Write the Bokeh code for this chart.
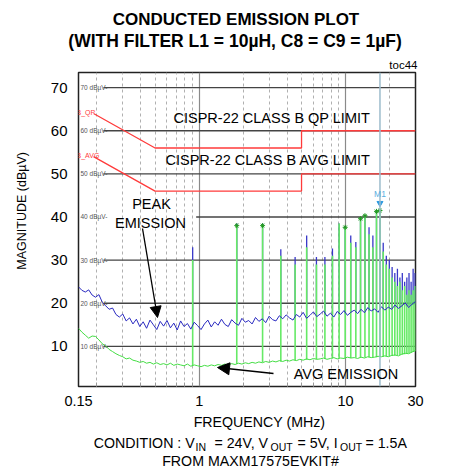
import numpy as np
from bokeh.plotting import figure
from bokeh.layouts import column, row
from bokeh.models import (FixedTicker, Label, Arrow, NormalHead, Range1d, Span,
                          CustomJSTickFormatter)
from bokeh.embed import file_html
from bokeh.resources import INLINE

FONT = "Liberation Sans"

# ---------------- data ----------------
x_ticks = [0.15, 1, 10, 30]
x_minor = [0.2, 0.3, 0.4, 0.5, 0.6, 0.7, 0.8, 0.9, 2, 3, 4, 5, 6, 7, 8, 9, 20]
y_ticks = [10, 20, 30, 40, 50, 60, 70]

peak_floor = [23.8, 23.0, 22.6, 23.1, 21.9, 21.4, 22.0, 20.2, 19.4, 18.6,
              18.9, 17.4, 16.8, 17.5, 15.9, 16.6, 15.2, 16.3, 14.6, 15.7,
              14.2, 16.1, 15.0, 13.9, 15.8, 14.7, 16.0, 14.3, 15.4, 13.8,
              15.9, 14.6, 15.3, 14.0, 15.6, 14.8, 13.9, 15.2, 16.1, 14.5,
              15.7, 14.9, 16.3, 15.1, 14.6, 16.2, 15.4, 14.9, 16.5, 15.6,
              16.0, 15.2, 16.7, 15.8, 16.4, 15.5, 17.0, 16.2, 15.9, 17.1,
              16.4, 17.3, 16.6, 16.1, 17.4, 16.8, 17.9, 16.5, 17.2, 18.0,
              16.9, 17.5, 18.2, 17.0, 17.7, 16.8, 18.1, 17.4, 18.3, 17.2,
              17.9, 18.4, 17.6, 18.6, 17.8, 19.0, 18.2, 18.7, 17.9, 19.2,
              18.4, 19.1, 18.6, 19.6, 18.8, 19.4, 20.1, 19.0, 19.8, 20.4]
avg_floor = [14.2, 13.3, 12.6, 11.9, 12.4, 12.3, 11.5, 10.6, 10.1, 9.3,
             8.8, 8.3, 7.9, 7.6, 7.1, 7.3, 6.8, 6.6, 6.3, 6.5,
             6.1, 6.3, 5.9, 6.2, 5.8, 6.0, 5.7, 6.1, 5.6, 5.9,
             5.7, 5.5, 5.9, 5.4, 5.7, 5.5, 5.3, 5.6, 5.4, 5.7,
             5.5, 5.8, 5.6, 5.9, 5.7, 6.0, 5.8, 6.1, 5.9, 6.2,
             6.0, 6.3, 6.1, 6.4, 6.2, 6.5, 6.3, 6.6, 6.4, 6.7,
             6.5, 6.8, 6.6, 6.9, 6.7, 7.0, 6.8, 7.1, 6.9, 7.2,
             7.0, 7.1, 7.3, 7.0, 7.2, 7.4, 7.1, 7.3, 7.2, 7.5,
             7.3, 7.4, 7.2, 7.5, 7.3, 7.6, 7.4, 7.5, 7.7, 7.6,
             7.8, 7.6, 7.9, 8.0, 7.8, 8.2, 8.4, 8.3, 8.7, 9.0]
sweep_mhz = np.geomspace(0.15, 30, len(peak_floor))

# switching harmonics (MHz) and their levels
harm_mhz = [0.903, 1.806, 2.71, 3.61, 4.52, 5.42, 6.32, 7.22, 8.13, 9.03,
            9.93, 10.84, 11.74, 12.64, 13.55, 14.45, 15.35, 16.25, 17.16, 18.06,
            18.96, 19.87, 20.77, 21.67, 22.58, 23.48, 24.38, 25.29, 26.19, 27.09,
            28.0, 28.9, 29.8]
harm_peak = [33, 38.5, 38.5, 32.5, 30.7, 35.7, 30.7, 30.7, 32.7, 38.5,
             37.8, 35.7, 34.2, 39.8, 40.5, 37.6, 35.7, 41.5, 41.7, 34,
             31, 30, 28.4, 27, 28, 26, 27, 25, 26, 27,
             25, 28, 27]
harm_avg = [30, 38, 38, 31, 29, 33, 29, 29, 31, 38.5,
            37.6, 34, 33, 39.6, 40.3, 36, 33, 41.3, 41.5, 32,
            29, 28, 26, 25, 24, 25, 23, 24, 22, 23,
            22, 23, 24]
harm_peak_base = [15.0, 15.8, 16.2, 16.6, 17.0, 17.1, 17.2, 17.3, 17.5, 17.6,
                  17.6, 17.8, 17.9, 18.0, 18.1, 18.2, 18.3, 18.4, 18.5, 18.6,
                  18.7, 18.8, 18.9, 19.0, 19.0, 19.1, 19.2, 19.3, 19.3, 19.4,
                  19.5, 19.6, 19.7]
harm_avg_base = [5.5, 5.9, 6.3, 6.5, 6.8, 6.9, 7.0, 7.1, 7.2, 7.3,
                 7.3, 7.3, 7.4, 7.4, 7.4, 7.5, 7.5, 7.5, 7.6, 7.6,
                 7.7, 7.8, 7.8, 7.9, 8.0, 8.0, 8.1, 8.2, 8.3, 8.4,
                 8.5, 8.7, 8.9]

# detector markers
mark_mhz = [1.806, 2.71, 9.93, 12.64, 13.55, 16.25, 17.16]
mark_level = [38, 38, 37.6, 39.6, 40.3, 41.3, 41.5]
m1_mhz = 17.16
m1_level = 43.2

# CISPR-22 class B limits
limit_mhz = [0.19, 0.5, 5.0, 5.0, 30]
qp_limit = [64, 56, 56, 60, 60]
avg_limit = [54, 46, 46, 50, 50]

# horizontal reference lines
grid_levels = [10, 20, 30, 40, 50, 60, 70]
grid_start = [0.222, 0.222, 0.222, 0.954, 0.222, 0.222, 0.222]
grid_end = [30, 30, 30, 30, 30, 30, 30]

# ---------------- layout geometry (page pixels) ----------------
XMIN, XMAX, YMIN, YMAX = 0.15, 30, 0.7, 73.5
FL, FR, FT, FB = 78, 415, 72, 386       # plot frame on the page
W, H = 470, 467
TOP_H = 70                               # title strip: page 0..70
LEFT_W = 38                              # y-label strip: page 0..38
MAIN_BOTTOM = 406                        # bottom of main figure canvas
BOT_H = H - MAIN_BOTTOM


def fx(px):
    return 10 ** (np.log10(XMIN) + (px - FL) / (FR - FL) * np.log10(XMAX / XMIN))


def fy(py):
    return YMIN + (FB - py) / (FB - FT) * (YMAX - YMIN)


def text_strip(width, height):
    f = figure(width=width, height=height, x_range=Range1d(0, width), y_range=Range1d(height, 0),
               x_axis_location=None, y_axis_location=None, min_border=0,
               output_backend="svg", toolbar_location=None)
    f.outline_line_color = None
    f.xgrid.visible = False
    f.ygrid.visible = False
    f.background_fill_color = "white"
    f.border_fill_color = "white"
    return f


def put(fig, x, y, s, size="14.5px", align="left", style="normal", color="black", angle=0):
    fig.add_layout(Label(x=x, y=y, text=s, text_font=FONT, text_font_size=size,
                         text_align=align, text_baseline="middle", text_font_style=style,
                         text_color=color, angle=angle))


# ---------------- main plot ----------------
p = figure(x_axis_type="log", x_range=Range1d(XMIN, XMAX), y_range=Range1d(YMIN, YMAX),
           frame_width=FR - FL, frame_height=FB - FT,
           min_border_left=FL - LEFT_W, min_border_right=W - FR,
           min_border_top=FT - TOP_H, min_border_bottom=MAIN_BOTTOM - FB,
           output_backend="svg", toolbar_location=None)
p.background_fill_color = "white"
p.border_fill_color = "white"
p.outline_line_color = "#222222"
p.outline_line_width = 1.5

p.xaxis.ticker = FixedTicker(ticks=x_ticks, minor_ticks=x_minor)
p.xaxis.formatter = CustomJSTickFormatter(code="return tick.toString()")
p.xaxis.axis_line_color = None
p.xaxis.major_tick_line_color = None
p.xaxis.minor_tick_in = 4
p.xaxis.minor_tick_out = 0
p.xaxis.minor_tick_line_color = "#999999"
p.xaxis.major_label_text_font = FONT
p.xaxis.major_label_text_font_size = "14.5px"
p.xaxis.major_label_text_color = "black"
p.xaxis.major_label_standoff = 3

p.yaxis.ticker = FixedTicker(ticks=y_ticks, minor_ticks=[])
p.yaxis.axis_line_color = None
p.yaxis.major_tick_line_color = None
p.yaxis.minor_tick_line_color = None
p.yaxis.major_label_text_font = FONT
p.yaxis.major_label_text_font_size = "15px"
p.yaxis.major_label_text_color = "black"
p.yaxis.major_label_standoff = 5

p.ygrid.visible = False
p.xgrid.ticker = FixedTicker(ticks=[1, 10], minor_ticks=x_minor)
p.xgrid.grid_line_color = "#8a8a8a"
p.xgrid.grid_line_width = 1.2
p.xgrid.minor_grid_line_color = "#b0b0b0"
p.xgrid.minor_grid_line_dash = "3 3"

p.add_layout(Span(location=m1_mhz, dimension="height", line_color="#9dbccc", line_width=1.5))

# horizontal reference lines
p.segment(x0=grid_start, y0=grid_levels, x1=grid_end, y1=grid_levels,
          line_color="#444444", line_width=1.3)
for lvl in grid_levels:
    p.add_layout(Label(x=fx(80), y=lvl, text=f"{lvl} dBµV-", text_font=FONT,
                       text_font_size="6.5px", text_color="#555555",
                       text_baseline="middle", text_align="left"))

# limits
p.line(limit_mhz, qp_limit, line_color="#ff3b3b", line_width=1.3)
p.line(limit_mhz, avg_limit, line_color="#ff3b3b", line_width=1.3)
p.add_layout(Label(x=fx(76), y=qp_limit[0] + 0.3, text="B_QP", text_font=FONT,
                   text_font_size="7px", text_color="#ff4040", text_baseline="middle"))
p.add_layout(Label(x=fx(76), y=avg_limit[0] + 0.3, text="B_AVG", text_font=FONT,
                   text_font_size="7px", text_color="#ff4040", text_baseline="middle"))

# spikes
p.segment(x0=harm_mhz, y0=harm_peak_base, x1=harm_mhz, y1=harm_peak,
          line_color="#3838c8", line_width=1.3)
p.segment(x0=harm_mhz, y0=harm_avg_base, x1=harm_mhz, y1=harm_avg,
          line_color="#66ea66", line_width=1.6)
# floors
p.line(sweep_mhz, avg_floor, line_color="#44dd44", line_width=1)
p.line(sweep_mhz, peak_floor, line_color="#2a2ac0", line_width=1)

# markers
p.scatter(mark_mhz, mark_level, marker="asterisk", size=5, line_color="#229922", line_width=1)
p.scatter([m1_mhz], [m1_level], marker="inverted_triangle", size=6,
          fill_color="#2f9be0", line_color="#2f9be0")
p.add_layout(Label(x=m1_mhz, y=m1_level + 2.2, text="M1", text_font=FONT,
                   text_font_size="8.5px", text_color="#5aaee0",
                   text_align="center", text_baseline="middle"))

put(p, fx(173), fy(117), "CISPR-22 CLASS B QP LIMIT")
put(p, fx(165), fy(159), "CISPR-22 CLASS B AVG LIMIT")
put(p, fx(151), fy(203), "PEAK", align="center")
put(p, fx(150), fy(222), "EMISSION", align="center")
put(p, fx(345.5), fy(373), "AVG EMISSION", align="center")

p.add_layout(Arrow(end=NormalHead(size=11, fill_color="black", line_color="black"),
                   x_start=fx(142), y_start=fy(228), x_end=fx(157), y_end=fy(317),
                   line_width=1.3, line_color="black"))
p.add_layout(Arrow(end=NormalHead(size=12, fill_color="black", line_color="black"),
                   x_start=fx(273), y_start=fy(373), x_end=fx(217), y_end=fy(367),
                   line_width=1.3, line_color="black"))

# ---------------- text strips (local coords = page coords minus strip origin) ----------------
top = text_strip(W, TOP_H)
put(top, 235.5, 19, "CONDUCTED EMISSION PLOT", size="17px", align="center", style="bold")
put(top, 237, 40, "(WITH FILTER  L1 = 10µH, C8 = C9 = 1µF)", size="17.5px", align="center", style="bold")
put(top, 417, 64.5, "toc44", size="11.5px", align="right")

main_h = MAIN_BOTTOM - TOP_H
left = text_strip(LEFT_W, main_h)
put(left, 21, 219 - TOP_H, "MAGNITUDE (dBµV)", size="12.5px", align="center", angle=np.pi / 2)

bot = text_strip(W, BOT_H)
oy = MAIN_BOTTOM
put(bot, 259, 419 - oy, "FREQUENCY (MHz)", size="14.2px", align="center")
put(bot, 93.3, 440 - oy, "CONDITION : V", size="14.2px")
put(bot, 195, 444.5 - oy, "IN", size="10.5px")
put(bot, 214, 440 - oy, "= 24V, V", size="14.2px")
put(bot, 270, 444.5 - oy, "OUT", size="10.5px")
put(bot, 297, 440 - oy, "= 5V, I", size="14.2px")
put(bot, 339.5, 444.5 - oy, "OUT", size="10.5px")
put(bot, 365, 440 - oy, "= 1.5A", size="14.2px")
put(bot, 250, 458 - oy, "FROM MAXM17575EVKIT#", size="14.2px", align="center")

layout = column(top, row(left, p), bot)
open("out.html", "w").write(file_html(layout, INLINE))
